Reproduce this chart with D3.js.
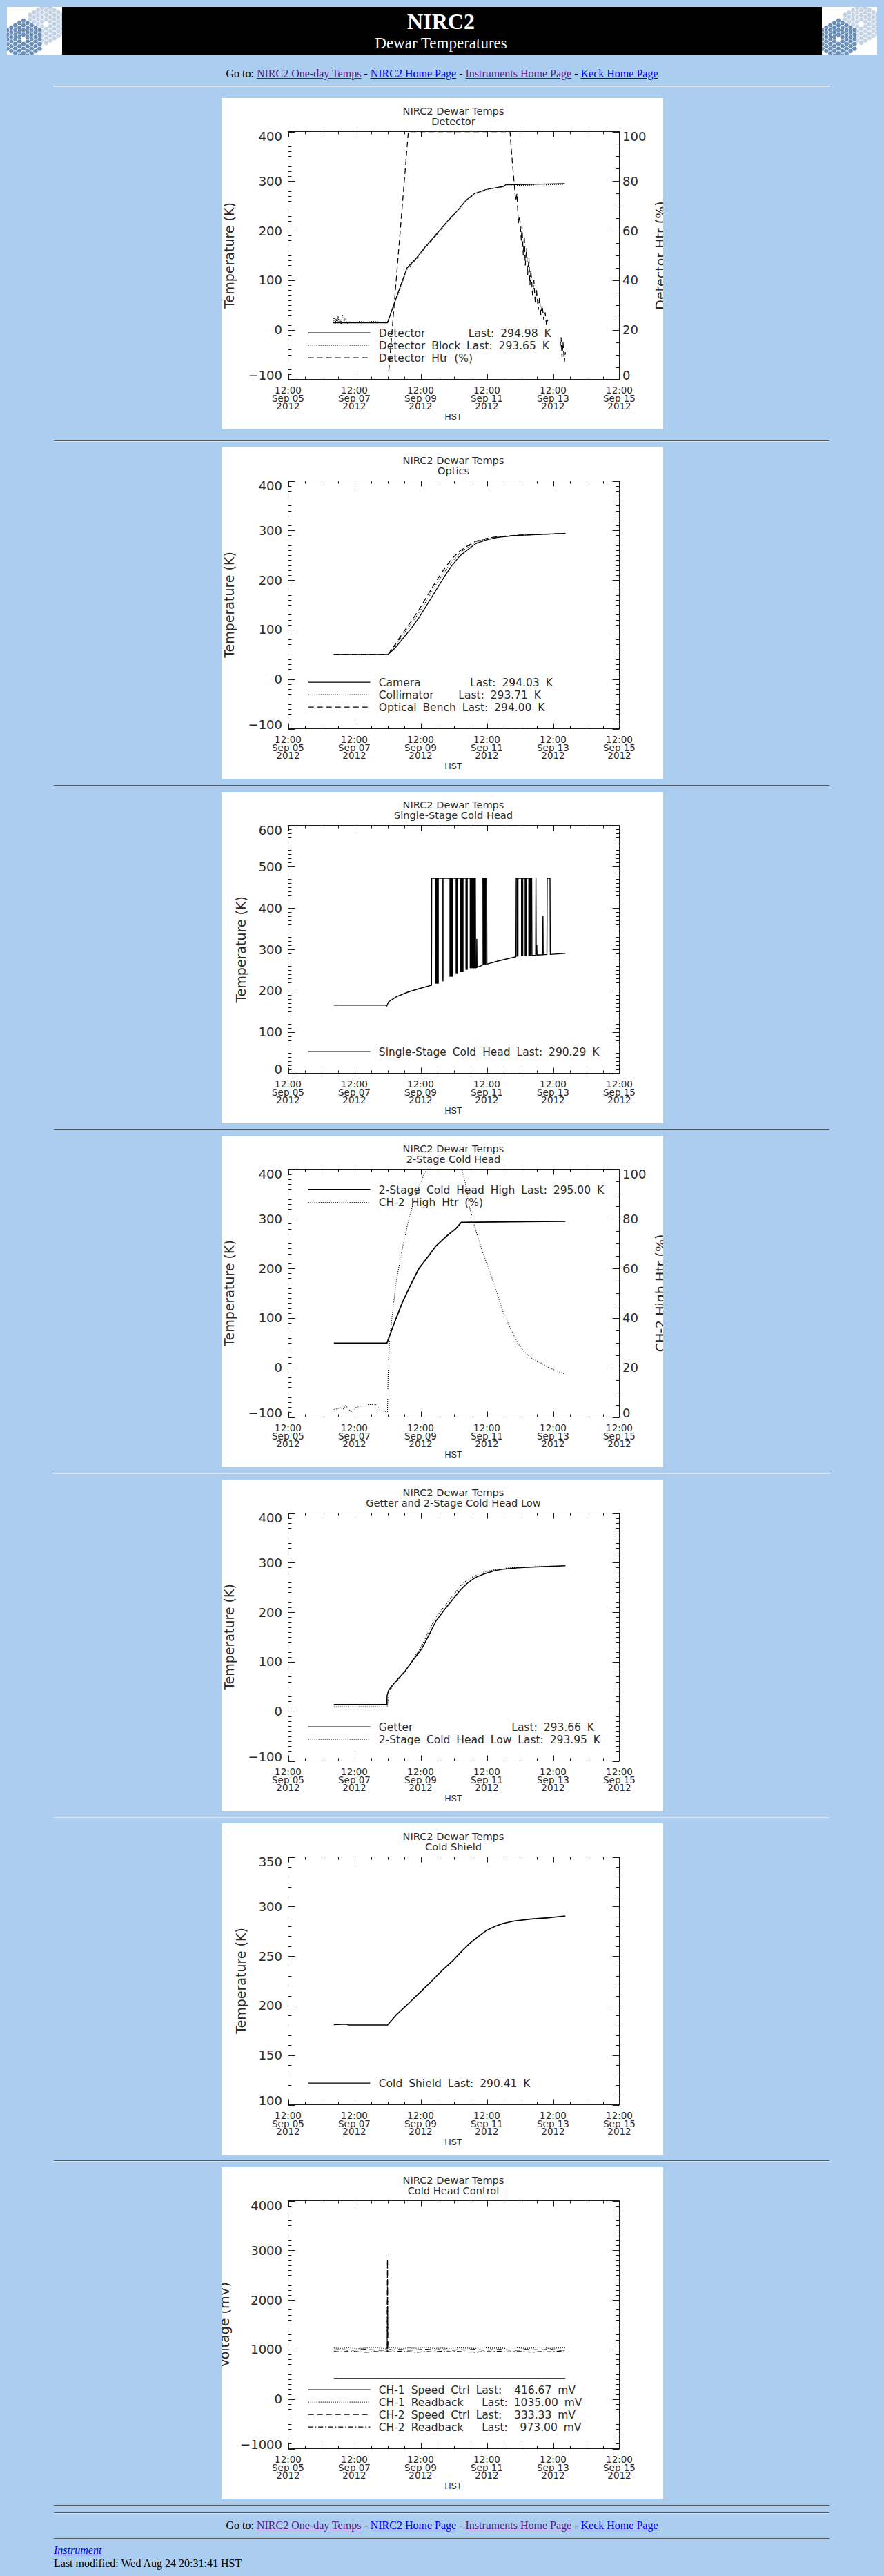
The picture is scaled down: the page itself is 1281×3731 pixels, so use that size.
<!DOCTYPE html>
<html>
<head>
<meta charset="utf-8">
<title>NIRC2 Dewar Temperatures</title>
<script src="https://cdn.jsdelivr.net/npm/d3@7/dist/d3.min.js"></script>
<style>
html,body{margin:0;padding:0}
body{background:#abcdef;width:1281px;height:3731px;position:relative;overflow:hidden;font-family:"Liberation Serif","Times New Roman",serif;font-size:16px;color:#000}
.line{position:absolute;left:0;width:1281px;text-align:center;line-height:18px;white-space:nowrap}
.left{position:absolute;left:78px;line-height:18px;white-space:nowrap}
a{text-decoration:underline}
a.v{color:#551a8b} a.u{color:#0000ee}
.hr{position:absolute;left:78px;width:1124px;height:1px;background:#585858;border-bottom:1px solid #d9e6f3}
svg.panel{position:absolute;left:321px;background:#fff}
svg text{font-family:"DejaVu Sans","Noto Sans",sans-serif}
</style>
</head>
<body>
<script>
// ================= DATA =================
// times are decimal day-of-month, September 2012 (HST); e.g. 8.5 = Sep 08 12:00
const xStartDay = 5.5, xEndDay = 15.5;

// --- Panel 1: Detector ---
const detTime   = [6.86, 8.50, 8.75, 9.09, 9.35, 9.60, 9.94, 10.28, 10.62, 10.88, 11.13, 11.47, 11.98, 12.07, 13.85];
const detTemp   = [14, 14, 62, 125, 143, 164, 190, 217, 241, 262, 275, 283, 289, 292.5, 294.98];
const blockTime = [6.86, 6.89, 6.92, 6.95, 6.98, 7.01, 7.04, 7.07, 7.10, 7.14, 7.18, 7.22, 7.28, 7.35, 7.45, 7.60, 7.75, 7.90, 8.05, 8.20, 8.35, 8.50, 8.75, 9.09, 9.35, 9.60, 9.94, 10.28, 10.62, 10.88, 11.13, 11.47, 11.98, 12.07, 13.20, 13.85];
const blockTemp = [18, 25, 12, 22, 10, 28, 14, 20, 11, 31, 15, 23, 13, 16, 15, 17, 16, 15, 17, 16, 15, 16, 59, 122, 141, 162, 188, 215, 240, 261, 274, 282, 288, 291, 292.5, 293.65];
const htrTime   = [8.54, 9.13, 12.20, 12.22, 12.28, 12.32, 12.37, 12.41, 12.45, 12.49, 12.54, 12.56, 12.60, 12.63, 12.66, 12.70, 12.73, 12.77, 12.80, 12.83, 12.88, 12.92, 12.96, 13.00, 13.05, 13.09, 13.13, 13.17, 13.22, 13.26, 13.30, 13.34, 13.50, 13.71, 13.74, 13.77, 13.80, 13.84, 13.87];
const htrPct    = [3.5, 100, 100, 96, 86, 80, 72, 75, 63, 66, 56, 62, 50, 58, 46, 53, 42, 49, 38, 44, 34, 40, 31, 36, 28, 33, 26, 30, 24, 27, 22, 24, null, 13, 17, 9, 15, 7, 11];
const p1Legend  = ["Detector       Last: 294.98 K", "Detector Block Last: 293.65 K", "Detector Htr (%)"];

// --- Panel 2: Optics ---
const optTime   = [6.88, 8.52, 8.73, 8.94, 9.20, 9.45, 9.71, 9.96, 10.22, 10.43, 10.69, 10.90, 11.15, 11.49, 11.83, 12.43, 13.87];
const camera    = [50, 50, 63, 80, 101, 124, 152, 179, 207, 228, 249, 260, 273, 281, 286, 290, 294.03];
const collim    = [50, 50, 68, 87, 110, 134, 162, 190, 216, 236, 255, 265, 276, 283, 287, 290, 293.71];
const bench     = [50, 50, 70, 91, 115, 140, 169, 197, 223, 242, 259, 268, 278, 284, 287.5, 290.5, 294.00];
const p2Legend  = ["Camera        Last: 294.03 K", "Collimator    Last: 293.71 K", "Optical Bench Last: 294.00 K"];

// --- Panel 3: Single-Stage Cold Head ---
const ssTime = [6.88, 8.46, 8.48, 8.53, 8.77, 9.11, 9.45, 9.83, 9.835, 11.153, 11.162, 11.19, 11.196, 11.204, 11.357, 11.366, 11.493, 11.502, 11.833, 12.173, 12.378, 12.386, 12.854, 12.862, 12.973, 12.981, 12.990, 13.007, 13.015, 13.185, 13.194, 13.202, 13.313, 13.321, 13.406, 13.415, 13.874];
const ssTemp = [165, 165, 163, 172.5, 185.3, 196.4, 204.8, 213.1, 472, 472, 254.9, 256, 325.5, 256.5, 261, 472, 472, 264.3, 271.6, 278.2, 282.1, 472, 472, 285.5, 286, 472, 286.2, 311.6, 286.3, 287, 381, 287, 287.6, 472, 472, 287.7, 290.29];
const ssBurstStart = [9.937, 10.158, 10.371, 10.558, 10.685, 10.855, 10.983, 11.374, 12.395, 12.531, 12.641, 12.752];
const ssBurstEnd   = [10.048, 10.192, 10.490, 10.626, 10.796, 10.923, 11.136, 11.485, 12.454, 12.599, 12.701, 12.837];
const ssBurstLow   = [217, 222.6, 233.7, 242, 244.8, 250.4, 254.3, 263, 282.7, 283.8, 284.4, 285];
const ssBurstHigh  = 472;
const p3Legend = ["Single-Stage Cold Head Last: 290.29 K"];

// --- Panel 4: 2-Stage Cold Head ---
const ch2HighTime = [6.88, 8.48, 8.69, 8.94, 9.20, 9.45, 9.67, 9.96, 10.30, 10.56, 10.73, 13.87];
const ch2HighTemp = [49, 49, 87, 130, 167, 200, 219, 245, 266, 280, 293, 295.00];
const ch2HtrTime  = [6.88, 6.99, 7.07, 7.16, 7.24, 7.33, 7.45, 7.54, 7.67, 7.79, 7.92, 8.05, 8.13, 8.22, 8.30, 8.43, 8.50, 8.52, 8.56, 8.65, 8.77, 8.94, 9.11, 9.28, 9.45, 9.58, 9.68, 10.75, 10.86, 10.98, 11.15, 11.37, 11.58, 11.79, 12.00, 12.22, 12.43, 12.64, 12.85, 13.11, 13.36, 13.62, 13.86];
const ch2HtrPct   = [3.1, 3.3, 3.8, 3.1, 4.7, 3.1, 1.7, 3.8, 4.3, 4.5, 5.0, 5.0, 5.3, 3.8, 2.6, 2.4, 2.2, 18, 31, 42, 55.3, 67.5, 77.9, 86.4, 93, 97.2, 100, 100, 93.9, 84.5, 76, 66.6, 59.1, 50.6, 42.1, 35.6, 29.9, 26.2, 23.8, 22.0, 20.0, 18.6, 17.4];
const p4Legend = ["2-Stage Cold Head High Last: 295.00 K", "CH-2 High Htr (%)"];

// --- Panel 5: Getter and 2-Stage Cold Head Low ---
const getterTime = [6.88, 8.48, 8.49, 8.53, 8.60, 8.77, 9.03, 9.28, 9.54, 9.79, 9.96, 10.22, 10.47, 10.73, 10.90, 11.15, 11.41, 11.75, 12.00, 12.43, 12.85, 13.87];
const getterTemp = [14, 14, 32, 41.5, 48.5, 62, 81, 104, 127, 159, 182, 205, 226, 247, 258, 270, 277, 284, 287, 289.5, 291, 293.66];
const lowTemp    = [9, 9, 9, 30, 45, 60, 80, 106, 133, 168, 190, 212, 233, 255, 265, 274, 281, 286, 288.5, 290.5, 291.5, 293.95];
const p5Legend = ["Getter                Last: 293.66 K", "2-Stage Cold Head Low Last: 293.95 K"];

// --- Panel 6: Cold Shield ---
const csTime = [6.88, 7.28, 7.31, 8.50, 8.77, 9.11, 9.45, 9.79, 10.13, 10.47, 10.73, 10.98, 11.24, 11.49, 11.75, 12.00, 12.34, 12.85, 13.36, 13.87];
const csTemp = [180.9, 181.3, 180.4, 180.4, 190.8, 201.3, 212.4, 223.3, 234.8, 245.3, 254.5, 262.7, 269.6, 275.9, 280.0, 283.0, 285.4, 287.4, 288.6, 290.41];
const p6Legend = ["Cold Shield Last: 290.41 K"];

// --- Panel 7: Cold Head Control ---
const ch1SpeedTime = [6.88, 13.87];
const ch1Speed     = [416.67, 416.67];
const ctlTime  = [6.88, 7.10, 7.35, 7.60, 7.85, 8.10, 8.35, 8.49, 8.50, 8.51, 8.65, 8.90, 9.15, 9.40, 9.65, 9.90, 10.15, 10.40, 10.65, 10.90, 11.15, 11.40, 11.65, 11.90, 12.15, 12.40, 12.65, 12.90, 13.15, 13.40, 13.65, 13.87];
const ch1Read  = [1030, 1020, 1035, 1015, 1028, 1040, 1022, 1010, 1025, 1030, 1035, 1018, 1032, 1025, 1040, 1020, 1030, 1015, 1035, 1028, 1020, 1038, 1025, 1030, 1018, 1035, 1022, 1030, 1040, 1020, 1032, 1035];
const ch2Speed = [990, 1000, 985, 995, 1005, 990, 985, 1000, 2800, 1005, 990, 1000, 985, 995, 1005, 990, 1000, 985, 995, 990, 1005, 985, 995, 1000, 990, 985, 1000, 995, 990, 1005, 985, 990];
const ch2Read  = [960, 950, 965, 955, 945, 960, 950, 955, 2850, 960, 950, 965, 955, 945, 960, 950, 965, 955, 960, 950, 945, 960, 955, 965, 950, 960, 955, 945, 960, 950, 965, 973];
const p7Legend = ["CH-1 Speed Ctrl Last:  416.67 mV", "CH-1 Readback   Last: 1035.00 mV", "CH-2 Speed Ctrl Last:  333.33 mV", "CH-2 Readback   Last:  973.00 mV"];

// tick values
const ticksTempA = [-100, 0, 100, 200, 300, 400];
const ticksTempB = [0, 100, 200, 300, 400, 500, 600];
const ticksTempC = [100, 150, 200, 250, 300, 350];
const ticksVolt  = [-1000, 0, 1000, 2000, 3000, 4000];
const ticksPct   = [0, 20, 40, 60, 80, 100];

// page text
const navText    = ["NIRC2 One-day Temps", "NIRC2 Home Page", "Instruments Home Page", "Keck Home Page"];
const navVisited = [true, false, true, false];

// ================= LAYOUT =================
const X0 = 96.5, X1 = 576.5, Y0 = 48.5, Y1 = 407.5;
const toDate = d => new Date(Date.UTC(2012, 8, 1) + (d - 1) * 864e5);
const x = d3.scaleUtc().domain([toDate(xStartDay), toDate(xEndDay)]).range([X0, X1]);
const dashes = {solid: null, dotted: "1,2", dashed: "8,5", dashdot: "7,3,1.5,3"};
const body = d3.select("body");

// ---------- header ----------
const hdr = body.append("svg").attr("width", 1281).attr("height", 90)
  .style("position", "absolute").style("left", "0px").style("top", "0px");
hdr.append("rect").attr("x", 90).attr("y", 10).attr("width", 1101).attr("height", 69).attr("fill", "#000");
hdr.append("text").attr("x", 639).attr("y", 42).attr("text-anchor", "middle")
  .style("font-family", '"Liberation Serif","Times New Roman",serif').style("font-weight", "bold")
  .attr("font-size", 32).attr("fill", "#fff").text("NIRC2");
hdr.append("text").attr("x", 639).attr("y", 69.5).attr("text-anchor", "middle")
  .style("font-family", '"Liberation Serif","Times New Roman",serif')
  .attr("font-size", 23).attr("fill", "#fff").text("Dewar Temperatures");

function drawLogo(ox, oy, id) {
  const g = hdr.append("g").attr("transform", `translate(${ox},${oy})`);
  g.append("clipPath").attr("id", id).append("rect").attr("width", 80).attr("height", 69);
  const gg = g.append("g").attr("clip-path", `url(#${id})`);
  gg.append("rect").attr("width", 80).attr("height", 69).attr("fill", "#fff");
  const r = 3.9, h = Math.sqrt(3) * r;
  const hex = "M" + d3.range(6).map(i => { const a = Math.PI / 3 * i; return [r * Math.cos(a), r * Math.sin(a)].join(","); }).join("L") + "Z";
  const shapes = [
    {cx: 57, cy: 25, R: 28, fill: "#c4d3e4"},
    {cx: 24, cy: 47, R: 28, fill: "#6a90ba"}
  ];
  shapes.forEach(s => {
    for (let c = -9; c <= 9; c++) {
      for (let rr = -9; rr <= 9; rr++) {
        const px = s.cx + c * 1.5 * r;
        const py = s.cy + rr * h + (Math.abs(c) % 2 ? h / 2 : 0);
        const ax = Math.abs(px - s.cx), ay = Math.abs(py - s.cy);
        const inside = ax <= s.R * 0.866 && ay + ax / 1.732 <= s.R;
        const hole = Math.hypot(px - s.cx, py - s.cy) < 4;
        if (inside && !hole) {
          gg.append("path").attr("d", hex).attr("transform", `translate(${px},${py})`)
            .attr("fill", s.fill).attr("stroke", "#fff").attr("stroke-width", 0.7);
        }
      }
    }
  });
}
drawLogo(10, 10, "logoL");
drawLogo(1191, 10, "logoR");

function nav(top) {
  const div = body.append("div").attr("class", "line").style("top", top + "px");
  div.append("span").text("Go to: ");
  navText.forEach((t, i) => {
    if (i) div.append("span").text(" - ");
    div.append("a").attr("href", "#").attr("class", navVisited[i] ? "v" : "u").text(t);
  });
}
function hr(top) { body.append("div").attr("class", "hr").style("top", top + "px"); }

nav(98);
hr(124);

// ---------- panels ----------
function drawPanel(cfg, top) {
  const svg = body.append("svg").attr("class", "panel").attr("width", 640).attr("height", 480).style("top", top + "px");
  svg.append("rect").attr("width", 640).attr("height", 480).attr("fill", "#fff");
  const y = d3.scaleLinear().domain(cfg.yDomain).range([Y1, Y0]);
  const y2 = cfg.right ? d3.scaleLinear().domain(cfg.right.domain).range([Y1, Y0]) : null;
  const ink = "#1a1a1a", tink = "#2a2a2a";

  // title
  const tg = svg.append("g").attr("font-size", 14.6).attr("text-anchor", "middle").attr("fill", tink);
  tg.append("text").attr("x", 336).attr("y", 24).text(cfg.title[0]);
  tg.append("text").attr("x", 336).attr("y", 38.5).text(cfg.title[1]);

  // data
  const cid = "clip-" + cfg.key;
  svg.append("clipPath").attr("id", cid).append("rect")
    .attr("x", X0).attr("y", Y0).attr("width", X1 - X0).attr("height", Y1 - Y0);
  const plot = svg.append("g").attr("clip-path", `url(#${cid})`);
  if (cfg.bursts) {
    const b = cfg.bursts;
    plot.selectAll("rect.burst").data(b.start).join("rect").attr("class", "burst")
      .attr("x", (d, i) => x(toDate(d)))
      .attr("width", (d, i) => x(toDate(b.end[i])) - x(toDate(d)))
      .attr("y", y(b.high))
      .attr("height", (d, i) => y(b.low[i]) - y(b.high))
      .attr("fill", "#000");
  }
  cfg.series.forEach(s => {
    const sc = s.axis === "right" ? y2 : y;
    const pts = s.t.map((d, i) => ({d: toDate(d), v: s.v[i]}));
    const line = d3.line().defined(p => p.v != null).x(p => x(p.d)).y(p => sc(p.v));
    plot.append("path").attr("d", line(pts)).attr("fill", "none").attr("stroke", "#000")
      .attr("stroke-width", s.w || 1.25).attr("stroke-dasharray", dashes[s.style]);
  });

  // box
  svg.append("rect").attr("x", X0).attr("y", Y0).attr("width", X1 - X0).attr("height", Y1 - Y0)
    .attr("fill", "none").attr("stroke", ink).attr("stroke-width", 1);

  const ax = svg.append("g").attr("stroke", ink).attr("stroke-width", 1);
  // x ticks
  const xs = x.ticks(d3.utcHour.every(12)).filter(t => t >= toDate(xStartDay) && t <= toDate(xEndDay));
  const isMajor = t => Math.round((t - toDate(xStartDay)) / 36e5) % 48 === 0;
  xs.forEach(t => {
    const len = isMajor(t) ? 8 : 4, px = Math.round(x(t)) + 0.5;
    ax.append("line").attr("x1", px).attr("x2", px).attr("y1", Y1).attr("y2", Y1 - len);
    ax.append("line").attr("x1", px).attr("x2", px).attr("y1", Y0).attr("y2", Y0 + len);
  });
  const xl = svg.append("g").attr("font-size", 13.5).attr("text-anchor", "middle").attr("fill", tink);
  const f1 = d3.utcFormat("%H:%M"), f2 = d3.utcFormat("%b %d"), f3 = d3.utcFormat("%Y");
  xs.filter(isMajor).forEach(t => {
    const px = x(t);
    xl.append("text").attr("x", px).attr("y", 428).text(f1(t));
    xl.append("text").attr("x", px).attr("y", 439.5).text(f2(t));
    xl.append("text").attr("x", px).attr("y", 451).text(f3(t));
  });
  svg.append("text").attr("x", 336).attr("y", 466).attr("text-anchor", "middle")
    .style("font-family", '"Liberation Sans",Arial,sans-serif').attr("font-size", 12.5).attr("fill", tink).text("HST");

  // y ticks
  function yTicks(scale, ticks, minor, side, mirror) {
    const dir = side === "left" ? 1 : -1, base = side === "left" ? X0 : X1;
    const draw = (v, len) => {
      const py = Math.round(scale(v)) + 0.5;
      ax.append("line").attr("x1", base).attr("x2", base + dir * len).attr("y1", py).attr("y2", py);
      if (mirror) ax.append("line").attr("x1", X1).attr("x2", X1 - len).attr("y1", py).attr("y2", py);
    };
    ticks.forEach((v, i) => {
      draw(v, 10);
      if (i < ticks.length - 1) {
        for (let k = 1; k < minor; k++) draw(v + (ticks[i + 1] - v) * k / minor, 5);
      }
    });
  }
  const fmt = d3.format("d");
  function yLabels(scale, ticks, side) {
    const g = svg.append("g").attr("font-size", 18).attr("fill", tink)
      .attr("text-anchor", side === "left" ? "end" : "start");
    ticks.forEach(v => {
      const by = Math.max(Y0 + 13, Math.min(Y1 + 0.5, scale(v) + 6.5));
      g.append("text").attr("x", side === "left" ? 88 : 581).attr("y", by).text(fmt(v));
    });
  }
  yTicks(y, cfg.yTicks, cfg.yMinor, "left", !cfg.right);
  yLabels(y, cfg.yTicks, "left");
  svg.append("text").attr("transform", `translate(${cfg.yLabelX},228) rotate(-90)`)
    .attr("text-anchor", "middle").attr("font-size", 19).attr("fill", tink).text(cfg.yLabel);
  if (cfg.right) {
    yTicks(y2, cfg.right.ticks, cfg.right.minor, "right", false);
    yLabels(y2, cfg.right.ticks, "right");
    svg.append("text").attr("transform", `translate(643,228) rotate(-90)`)
      .attr("text-anchor", "middle").attr("font-size", 19).attr("fill", tink).text(cfg.right.label);
  }

  // legend
  const L = cfg.legend, n = L.text.length;
  const lg = svg.append("g");
  L.text.forEach((t, i) => {
    const cy = L.pos === "top" ? 78 + i * 18.5 : 376 - (n - 1 - i) * 18;
    lg.append("line").attr("x1", 125.7).attr("x2", 215.5).attr("y1", cy).attr("y2", cy)
      .attr("stroke", "#000").attr("stroke-width", L.w ? L.w[i] : 1.25).attr("stroke-dasharray", dashes[L.styles[i]]);
    lg.append("text").attr("x", 227.8).attr("y", cy + 5.5).attr("font-size", 15.5).attr("fill", tink)
      .attr("xml:space", "preserve").style("white-space", "pre").style("word-spacing", "4px").text(t);
  });
}

const panels = [
  {key: "p1", title: ["NIRC2 Dewar Temps", "Detector"], yDomain: [-100, 400], yTicks: ticksTempA, yMinor: 10,
   yLabel: "Temperature (K)", yLabelX: 18,
   right: {domain: [0, 100], ticks: ticksPct, minor: 4, label: "Detector Htr (%)"},
   series: [
     {t: blockTime, v: blockTemp, style: "dotted"},
     {t: detTime, v: detTemp, style: "solid"},
     {t: htrTime, v: htrPct, style: "dashed", axis: "right"}],
   legend: {pos: "bottom", text: p1Legend, styles: ["solid", "dotted", "dashed"]}},
  {key: "p2", title: ["NIRC2 Dewar Temps", "Optics"], yDomain: [-100, 400], yTicks: ticksTempA, yMinor: 10,
   yLabel: "Temperature (K)", yLabelX: 18,
   series: [
     {t: optTime, v: bench, style: "dashed"},
     {t: optTime, v: collim, style: "dotted"},
     {t: optTime, v: camera, style: "solid"}],
   legend: {pos: "bottom", text: p2Legend, styles: ["solid", "dotted", "dashed"]}},
  {key: "p3", title: ["NIRC2 Dewar Temps", "Single-Stage Cold Head"], yDomain: [0, 600], yTicks: ticksTempB, yMinor: 10,
   yLabel: "Temperature (K)", yLabelX: 34.5,
   bursts: {start: ssBurstStart, end: ssBurstEnd, low: ssBurstLow, high: ssBurstHigh},
   series: [{t: ssTime, v: ssTemp, style: "solid", w: 1.4}],
   legend: {pos: "bottom", text: p3Legend, styles: ["solid"]}},
  {key: "p4", title: ["NIRC2 Dewar Temps", "2-Stage Cold Head"], yDomain: [-100, 400], yTicks: ticksTempA, yMinor: 10,
   yLabel: "Temperature (K)", yLabelX: 18,
   right: {domain: [0, 100], ticks: ticksPct, minor: 4, label: "CH-2 High Htr (%)"},
   series: [
     {t: ch2HtrTime, v: ch2HtrPct, style: "dotted", axis: "right", w: 1.1},
     {t: ch2HighTime, v: ch2HighTemp, style: "solid", w: 1.8}],
   legend: {pos: "top", text: p4Legend, styles: ["solid", "dotted"], w: [1.8, 1.1]}},
  {key: "p5", title: ["NIRC2 Dewar Temps", "Getter and 2-Stage Cold Head Low"], yDomain: [-100, 400], yTicks: ticksTempA, yMinor: 10,
   yLabel: "Temperature (K)", yLabelX: 18,
   series: [
     {t: getterTime, v: lowTemp, style: "dotted"},
     {t: getterTime, v: getterTemp, style: "solid", w: 1.5}],
   legend: {pos: "bottom", text: p5Legend, styles: ["solid", "dotted"]}},
  {key: "p6", title: ["NIRC2 Dewar Temps", "Cold Shield"], yDomain: [100, 350], yTicks: ticksTempC, yMinor: 5,
   yLabel: "Temperature (K)", yLabelX: 34.5,
   series: [{t: csTime, v: csTemp, style: "solid", w: 1.6}],
   legend: {pos: "bottom", text: p6Legend, styles: ["solid"]}},
  {key: "p7", title: ["NIRC2 Dewar Temps", "Cold Head Control"], yDomain: [-1000, 4000], yTicks: ticksVolt, yMinor: 10,
   yLabel: "Voltage (mV)", yLabelX: 11,
   series: [
     {t: ctlTime, v: ch1Read, style: "dotted"},
     {t: ctlTime, v: ch2Speed, style: "dashed"},
     {t: ctlTime, v: ch2Read, style: "dashdot"},
     {t: ch1SpeedTime, v: ch1Speed, style: "solid"}],
   legend: {pos: "bottom", text: p7Legend, styles: ["solid", "dotted", "dashed", "dashdot"]}}
];

const panelTops = [142, 648, 1147, 1645, 2143, 2641, 3139];
panels.forEach((p, i) => drawPanel(p, panelTops[i]));
[638, 1137, 1635, 2133, 2631, 3129, 3628, 3639].forEach(hr);

// ---------- footer ----------
nav(3649);
hr(3676);
const inst = body.append("div").attr("class", "left").style("top", "3685px");
inst.append("a").attr("href", "#").attr("class", "u").style("font-style", "italic").text("Instrument");
body.append("div").attr("class", "left").style("top", "3704px").text("Last modified: Wed Aug 24 20:31:41 HST");
</script>
</body>
</html>
